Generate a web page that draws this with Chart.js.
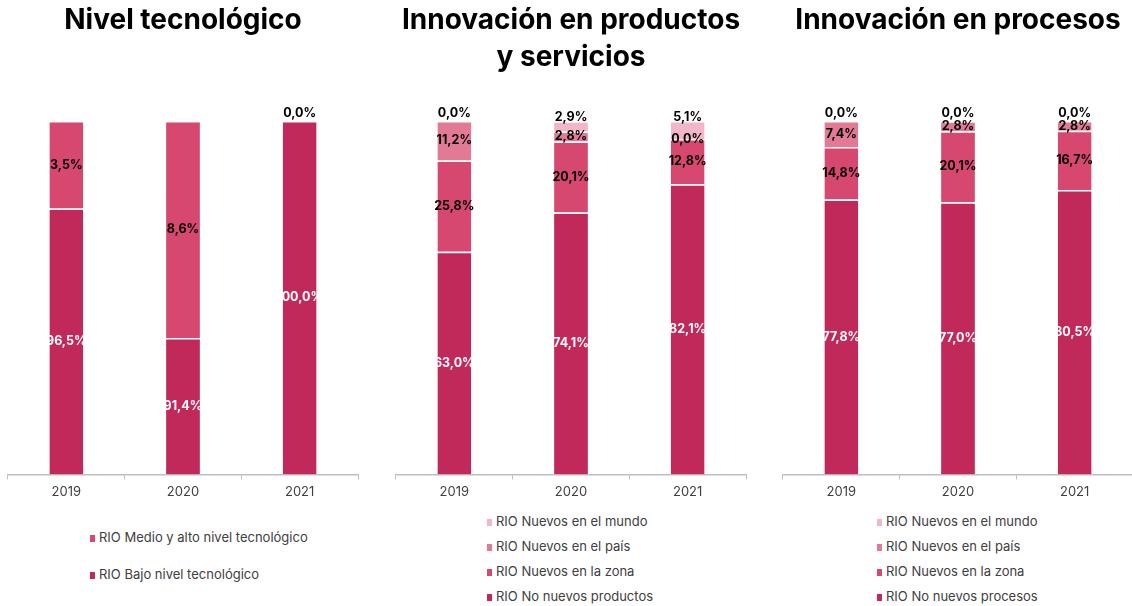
<!DOCTYPE html>
<html>
<head>
<meta charset="utf-8">
<script src="https://cdn.jsdelivr.net/npm/chart.js@4.4.1/dist/chart.umd.min.js"></script>
<style>
  body { margin: 0; width: 1132px; height: 606px; overflow: hidden; position: relative; background: #fff; font-family: Inter, "Noto Sans", sans-serif; }
  canvas { position: absolute; top: 0; }
  .legend { position: absolute; font-size: 13px; color: #404040; }
  .legend div { position: absolute; white-space: nowrap; line-height: 16px; }
  .legend span { display: inline-block; width: 5px; height: 7px; margin-right: 4px; vertical-align: 0px; }
</style>
</head>
<body>
<canvas id="c1" width="366" height="506" style="left:0px"></canvas>
<canvas id="c2" width="366" height="506" style="left:388px"></canvas>
<canvas id="c3" width="366" height="506" style="left:775px"></canvas>
<div class="legend" id="l1" style="left:90px"></div>
<div class="legend" id="l2" style="left:487px"></div>
<div class="legend" id="l3" style="left:877px"></div>
<script>
// categories
const years = ['2019', '2020', '2021'];

// Nivel tecnológico (bar heights as drawn, labels as printed)
const nivelBajo = [75.2, 38.6, 100.0];
const nivelMedioAlto = [24.8, 61.4, 0.0];
const nivelBajoTxt = ['96,5%', '91,4%', '100,0%'];
const nivelMedioAltoTxt = ['3,5%', '8,6%', '0,0%'];

// Innovación en productos y servicios
const prodNoNuevos = [63.0, 74.1, 82.1];
const prodZona = [25.8, 20.1, 12.8];
const prodPais = [11.2, 2.8, 0.0];
const prodMundo = [0.0, 2.9, 5.1];

// Innovación en procesos
const procNoNuevos = [77.8, 77.0, 80.5];
const procZona = [14.8, 20.1, 16.7];
const procPais = [7.4, 2.8, 2.8];
const procMundo = [0.0, 0.0, 0.0];

const colDark = '#C0295A';
const colMid = '#D6486F';
const colLight = '#E27A96';
const colPale = '#F1B6C8';

const fmt = v => v.toFixed(1).replace('.', ',');

// draws the value labels in the middle of each segment
const segLabels = {
    id: 'segLabels',
    afterDatasetsDraw(chart) {
        const ctx = chart.ctx;
        const sets = chart.data.datasets;
        ctx.save();
        ctx.font = '700 12.5px Inter, "Noto Sans", sans-serif';
        ctx.textAlign = 'center';
        ctx.textBaseline = 'middle';
        sets.forEach((ds, i) => {
            const meta = chart.getDatasetMeta(i);
            meta.data.forEach((bar, j) => {
                const v = ds.data[j];
                const txt = ds.texts ? ds.texts[j] : fmt(v) + '%';
                const last = i === sets.length - 1;
                let y = (bar.y + bar.base) / 2;
                if (last && v === 0) y = bar.y - 8;
                else if (last && v < 6) y = bar.y - 4;
                ctx.fillStyle = i === 0 ? '#ffffff' : '#000000';
                ctx.fillText(txt, bar.x, y);
            });
        });
        ctx.restore();
    }
};

function makeChart(id, title, titleGap, datasets) {
    return new Chart(document.getElementById(id), {
        type: 'bar',
        data: {
            labels: years,
            datasets: datasets.map(d => ({
                label: d.label,
                data: d.data,
                texts: d.texts,
                backgroundColor: d.color,
                borderColor: '#ffffff',
                borderWidth: { top: 1.5, left: 0, right: 0, bottom: 0 },
                borderSkipped: false,
                barPercentage: 0.29,
                categoryPercentage: 1
            }))
        },
        options: {
            responsive: false,
            animation: false,
            layout: { padding: { left: 8, right: 8, top: 0, bottom: 1 } },
            plugins: {
                legend: { display: false },
                tooltip: { enabled: false },
                title: {
                    display: true,
                    text: title,
                    color: '#000000',
                    font: { family: 'Inter', size: 28, weight: '700', lineHeight: 1.32 },
                    padding: { top: 2, bottom: titleGap }
                }
            },
            scales: {
                x: {
                    stacked: true,
                    grid: { display: true, drawOnChartArea: false, drawTicks: true, tickLength: 5, color: '#bfbfbf', offset: true },
                    border: { display: true, color: '#bfbfbf', width: 1.5 },
                    ticks: { color: '#404040', font: { family: 'Inter', size: 13 }, padding: 5 }
                },
                y: { stacked: true, display: false, min: 0, max: 100 }
            }
        },
        plugins: [segLabels]
    });
}

const sets1 = [
    { label: 'RIO Bajo nivel tecnológico', data: nivelBajo, texts: nivelBajoTxt, color: colDark },
    { label: 'RIO Medio y alto nivel tecnológico', data: nivelMedioAlto, texts: nivelMedioAltoTxt, color: colMid }
];
const sets2 = [
    { label: 'RIO No nuevos productos', data: prodNoNuevos, color: colDark },
    { label: 'RIO Nuevos en la zona', data: prodZona, color: colMid },
    { label: 'RIO Nuevos en el país', data: prodPais, color: colLight },
    { label: 'RIO Nuevos en el mundo', data: prodMundo, color: colPale }
];
const sets3 = [
    { label: 'RIO No nuevos procesos', data: procNoNuevos, color: colDark },
    { label: 'RIO Nuevos en la zona', data: procZona, color: colMid },
    { label: 'RIO Nuevos en el país', data: procPais, color: colLight },
    { label: 'RIO Nuevos en el mundo', data: procMundo, color: colPale }
];

makeChart('c1', 'Nivel tecnológico', 82, sets1);
makeChart('c2', ['Innovación en productos', 'y servicios'], 45, sets2);
makeChart('c3', 'Innovación en procesos', 82, sets3);

// html legends, top series first
function buildLegend(id, sets, rows) {
    const box = document.getElementById(id);
    sets.slice().reverse().forEach((s, k) => {
        const item = document.createElement('div');
        item.style.top = (rows[k] - 8) + 'px';
        item.innerHTML = '<span style="background:' + s.color + '"></span>' + s.label;
        box.appendChild(item);
    });
}
buildLegend('l1', sets1, [537, 574]);
buildLegend('l2', sets2, [521, 546, 571, 596]);
buildLegend('l3', sets3, [521, 546, 571, 596]);
</script>
</body>
</html>
